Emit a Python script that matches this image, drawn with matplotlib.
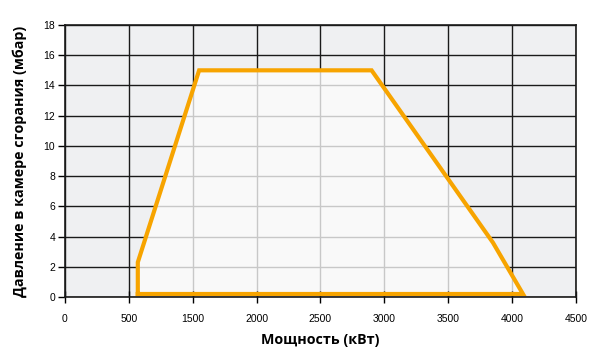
import numpy as np
import matplotlib.pyplot as plt
from matplotlib.patches import Polygon

# working range of the burner (x in kW positions, y in mbar)
power = [570, 570, 1050, 2400, 3350, 3585, 570]
pressure = [0.2, 2.3, 15.0, 15.0, 3.6, 0.2, 0.2]

xticks = [0, 500, 1000, 1500, 2000, 2500, 3000, 3500, 4000]
xlabels = ['0', '500', '1500', '2000', '2500', '3000', '3500', '4000', '4500']
yticks = [0, 2, 4, 6, 8, 10, 12, 14, 16, 18]

orange = '#f7a400'

fig = plt.figure(figsize=(5.93, 3.51), dpi=100)
ax = fig.add_axes([0.1096, 0.1538, 0.8617, 0.775])
ax.set_facecolor('#eff0f2')

ax.set_xlim(0, 4000)
ax.set_ylim(0, 18)

# dark grid outside the working field
for x in xticks:
    ax.axvline(x, color='#1a1a1a', lw=1.0, zorder=0.5)
for y in yticks:
    ax.axhline(y, color='#1a1a1a', lw=1.0, zorder=0.5)

# working field
pts = np.column_stack([power, pressure])
field = Polygon(pts, closed=True, facecolor='#f9f9f9', edgecolor='none', zorder=1)
ax.add_patch(field)

# light grid inside the field
for x in xticks:
    l = ax.axvline(x, color='#c8c8c8', lw=1.0, zorder=1.5)
    l.set_clip_path(field)
for y in yticks:
    l = ax.axhline(y, color='#c8c8c8', lw=1.0, zorder=1.5)
    l.set_clip_path(field)

ax.plot(power, pressure, color=orange, lw=3.0, solid_joinstyle='miter', zorder=3)

ax.set_xticks(xticks)
ax.set_xticklabels(xlabels)
ax.set_yticks(yticks)
ax.tick_params(axis='x', direction='inout', length=8, width=1, color='black',
               labelsize=7.5, pad=8)
ax.tick_params(axis='y', direction='out', length=5, width=1, color='black',
               labelsize=7.5, pad=2)
for lab in ax.get_xticklabels() + ax.get_yticklabels():
    lab.set_family('Liberation Sans')

for s in ax.spines.values():
    s.set_color('#1a1a1a')
    s.set_linewidth(1.2)
    s.set_zorder(4)

ax.set_xlabel('Мощность (кВт)', fontsize=10.3, fontweight='bold', family='Open Sans',
              labelpad=7)
ax.set_ylabel('Давление в камере сгорания (мбар)', fontsize=10.3, fontweight='bold',
              family='Open Sans', labelpad=12)

fig.savefig('out.png', dpi=100)
